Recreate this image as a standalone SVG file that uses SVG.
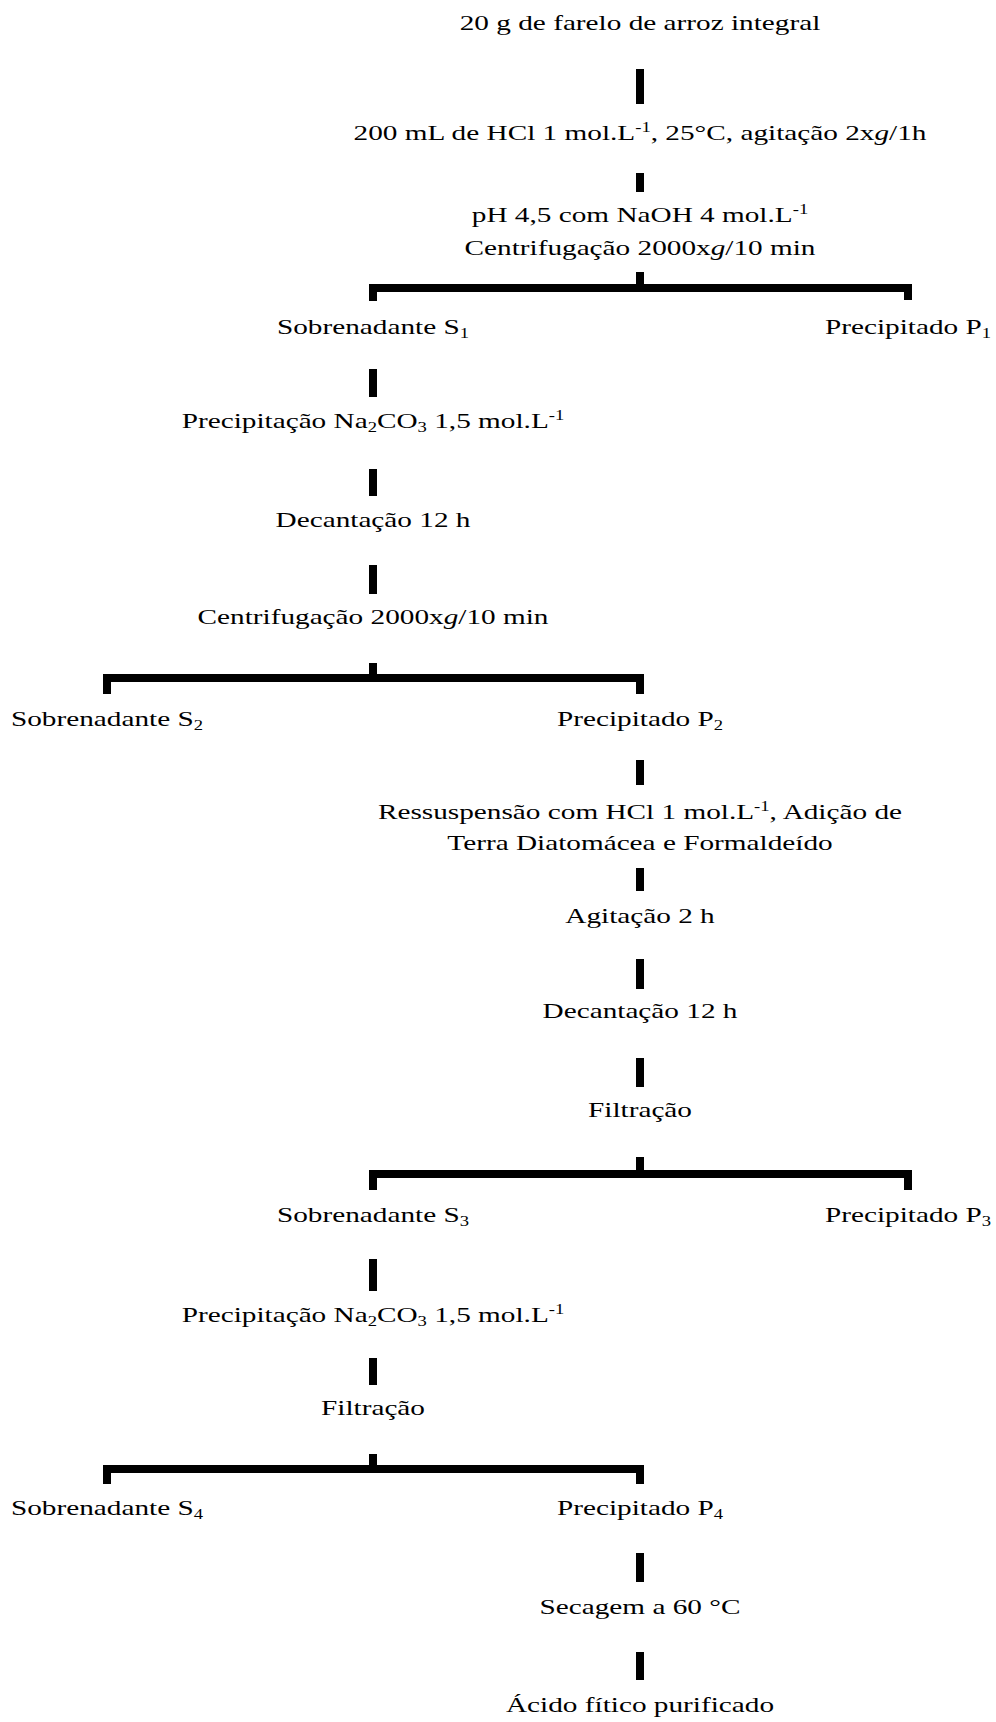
<svg xmlns="http://www.w3.org/2000/svg" width="996" height="1722" viewBox="0 0 996 1722">
<style>
text{font-family:"Liberation Serif","Times New Roman",serif;font-size:22px;fill:#000;text-anchor:middle}
.s{font-size:14px}
.i{font-style:italic}
.c{fill:none;stroke:#000;stroke-width:8;stroke-linecap:butt;stroke-linejoin:miter}
</style>
<rect width="996" height="1722" fill="#fff"/>
<g id="connectors">
<path class="c" d="M640 69V104"/>
<path class="c" d="M640 173V192"/>
<path class="c" d="M640 272V288M373 301V288H908V300"/>
<path class="c" d="M373 369V397"/>
<path class="c" d="M373 469V496"/>
<path class="c" d="M373 565V594"/>
<path class="c" d="M373 663V678M107 694V678H640V694"/>
<path class="c" d="M640 760V785"/>
<path class="c" d="M640 868V891"/>
<path class="c" d="M640 959V989"/>
<path class="c" d="M640 1058V1087"/>
<path class="c" d="M640 1157V1174M373 1190V1174H908V1190"/>
<path class="c" d="M373 1259V1291"/>
<path class="c" d="M373 1358V1385"/>
<path class="c" d="M373 1454V1469M107 1484V1469H640V1484"/>
<path class="c" d="M640 1553V1582"/>
<path class="c" d="M640 1652V1680"/>
</g>
<g id="n1"><text transform="translate(640 30) scale(1.33 1)">20 g de farelo de arroz integral</text></g>
<g id="n2"><text transform="translate(640 140) scale(1.33 1)">200 mL de HCl 1 mol.L<tspan class="s" dy="-8">-1</tspan><tspan dy="8">, 25°C, agitação 2x</tspan><tspan class="i">g</tspan>/1h</text></g>
<g id="n3"><text transform="translate(640 222) scale(1.33 1)">pH 4,5 com NaOH 4 mol.L<tspan class="s" dy="-8">-1</tspan></text>
<text transform="translate(640 255) scale(1.33 1)">Centrifugação 2000x<tspan class="i">g</tspan>/10 min</text></g>
<g id="s1"><text transform="translate(373 334) scale(1.33 1)">Sobrenadante S<tspan class="s" dy="4">1</tspan></text></g>
<g id="p1"><text transform="translate(908 334) scale(1.33 1)">Precipitado P<tspan class="s" dy="4">1</tspan></text></g>
<g id="n4"><text transform="translate(373 428) scale(1.33 1)">Precipitação Na<tspan class="s" dy="4">2</tspan><tspan dy="-4">CO</tspan><tspan class="s" dy="4">3</tspan><tspan dy="-4"> 1,5 mol.L</tspan><tspan class="s" dy="-8">-1</tspan></text></g>
<g id="n5"><text transform="translate(373 527) scale(1.33 1)">Decantação 12 h</text></g>
<g id="n6"><text transform="translate(373 624) scale(1.33 1)">Centrifugação 2000x<tspan class="i">g</tspan>/10 min</text></g>
<g id="s2"><text transform="translate(107 726) scale(1.33 1)">Sobrenadante S<tspan class="s" dy="4">2</tspan></text></g>
<g id="p2"><text transform="translate(640 726) scale(1.33 1)">Precipitado P<tspan class="s" dy="4">2</tspan></text></g>
<g id="n7"><text transform="translate(640 819) scale(1.33 1)">Ressuspensão com HCl 1 mol.L<tspan class="s" dy="-8">-1</tspan><tspan dy="8">, Adição de</tspan></text>
<text transform="translate(640 850) scale(1.33 1)">Terra Diatomácea e Formaldeído</text></g>
<g id="n8"><text transform="translate(640 923) scale(1.33 1)">Agitação 2 h</text></g>
<g id="n9"><text transform="translate(640 1018) scale(1.33 1)">Decantação 12 h</text></g>
<g id="n10"><text transform="translate(640 1117) scale(1.33 1)">Filtração</text></g>
<g id="s3"><text transform="translate(373 1222) scale(1.33 1)">Sobrenadante S<tspan class="s" dy="4">3</tspan></text></g>
<g id="p3"><text transform="translate(908 1222) scale(1.33 1)">Precipitado P<tspan class="s" dy="4">3</tspan></text></g>
<g id="n11"><text transform="translate(373 1322) scale(1.33 1)">Precipitação Na<tspan class="s" dy="4">2</tspan><tspan dy="-4">CO</tspan><tspan class="s" dy="4">3</tspan><tspan dy="-4"> 1,5 mol.L</tspan><tspan class="s" dy="-8">-1</tspan></text></g>
<g id="n12"><text transform="translate(373 1415) scale(1.33 1)">Filtração</text></g>
<g id="s4"><text transform="translate(107 1515) scale(1.33 1)">Sobrenadante S<tspan class="s" dy="4">4</tspan></text></g>
<g id="p4"><text transform="translate(640 1515) scale(1.33 1)">Precipitado P<tspan class="s" dy="4">4</tspan></text></g>
<g id="n13"><text transform="translate(640 1614) scale(1.33 1)">Secagem a 60 °C</text></g>
<g id="n14"><text transform="translate(640 1712) scale(1.33 1)">Ácido fítico purificado</text></g>
</svg>
